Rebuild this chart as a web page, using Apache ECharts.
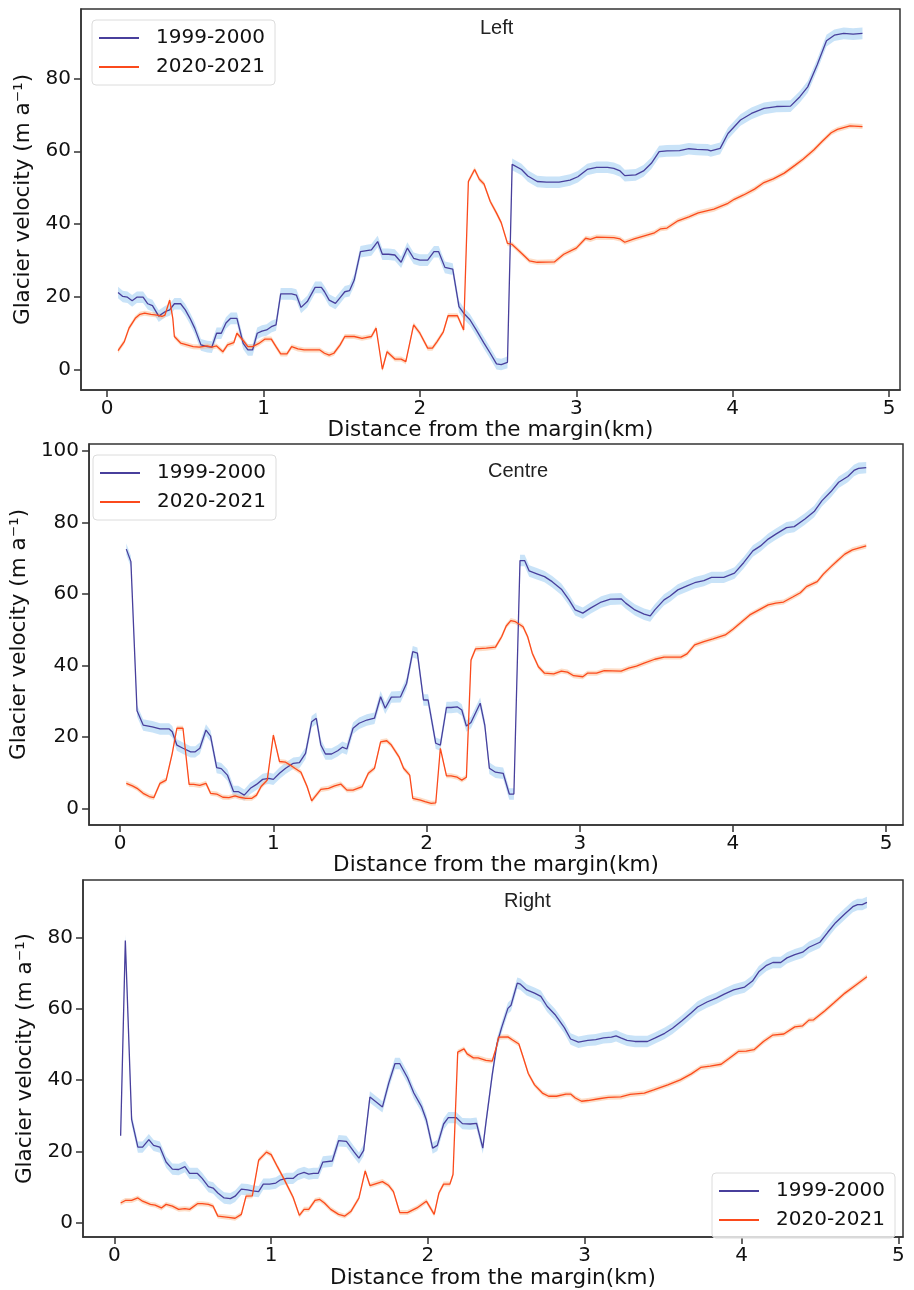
<!DOCTYPE html>
<html>
<head>
<meta charset="utf-8">
<script src="https://cdn.jsdelivr.net/npm/echarts@6/dist/echarts.min.js"></script>
<style>
  html, body { margin: 0; padding: 0; background: #fff; }
  #chart { width: 914px; height: 1290px; }
</style>
</head>
<body>
<div id="chart"></div>
<script>
// tick labels
const xTicks = [0, 1, 2, 3, 4, 5];
const yTicksLeft = [0, 20, 40, 60, 80];
const yTicksCentre = [0, 20, 40, 60, 80, 100];
const yTicksRight = [0, 20, 40, 60, 80];

// Left profile
const leftX1999 = [0.07,0.10,0.13,0.16,0.19,0.23,0.26,0.29,0.33,0.37,0.40,0.43,0.47,0.50,0.53,0.56,0.60,0.64,0.67,0.70,0.73,0.76,0.79,0.83,0.87,0.90,0.93,0.96,0.99,1.02,1.05,1.08,1.11,1.14,1.18,1.21,1.24,1.28,1.33,1.37,1.39,1.42,1.46,1.49,1.52,1.55,1.58,1.62,1.66,1.69,1.73,1.76,1.80,1.84,1.88,1.92,1.96,2.00,2.05,2.09,2.12,2.16,2.21,2.25,2.28,2.32,2.36,2.41,2.45,2.49,2.52,2.56,2.59,2.65,2.69,2.75,2.81,2.89,2.96,3.01,3.07,3.13,3.20,3.24,3.28,3.31,3.38,3.43,3.48,3.53,3.58,3.66,3.72,3.77,3.84,3.86,3.92,3.97,4.05,4.12,4.20,4.28,4.37,4.43,4.48,4.54,4.60,4.65,4.71,4.77,4.83];
const leftV1999 = [21.2,20.1,19.9,18.9,19.9,19.9,18.1,17.6,14.7,15.9,16.4,18.1,18.1,16.4,14.1,11.4,6.8,6.3,6.2,10.0,10.0,12.8,14.1,14.1,7.2,5.4,5.4,10.0,10.6,10.9,11.8,12.3,20.8,20.8,20.8,20.5,17.1,18.7,22.6,22.6,21.4,19.1,18.2,19.8,21.4,21.7,24.6,32.4,32.7,32.9,35.2,31.7,31.7,31.5,29.5,33.4,30.6,30.1,30.1,32.4,32.4,28.1,27.6,17.3,15.5,13.7,10.9,7.3,4.5,1.6,1.4,2.0,56.4,55.0,53.2,51.7,51.5,51.5,52.1,53.0,55.0,55.6,55.6,55.3,54.6,53.3,53.5,54.6,56.7,59.9,60.1,60.2,60.7,60.5,60.4,60.1,60.8,64.9,68.6,70.4,71.8,72.3,72.4,75.0,77.7,83.7,90.4,91.9,92.4,92.2,92.4];
const leftX2020 = [0.07,0.11,0.14,0.18,0.21,0.24,0.28,0.32,0.35,0.37,0.40,0.42,0.43,0.47,0.51,0.55,0.59,0.64,0.67,0.70,0.74,0.77,0.81,0.83,0.87,0.90,0.93,0.97,1.01,1.05,1.08,1.11,1.15,1.18,1.22,1.26,1.33,1.36,1.39,1.42,1.45,1.49,1.52,1.58,1.63,1.69,1.72,1.76,1.79,1.84,1.88,1.91,1.96,2.00,2.05,2.08,2.11,2.15,2.18,2.24,2.28,2.31,2.35,2.38,2.41,2.45,2.49,2.52,2.56,2.59,2.65,2.70,2.75,2.86,2.92,3.00,3.06,3.09,3.13,3.24,3.28,3.31,3.37,3.43,3.50,3.54,3.58,3.65,3.72,3.78,3.88,3.97,4.01,4.07,4.14,4.20,4.26,4.33,4.40,4.45,4.52,4.57,4.63,4.67,4.75,4.83];
const leftV2020 = [5.2,7.7,11.4,14.1,15.2,15.5,15.2,15.0,14.6,15.0,19.1,14.1,9.1,7.3,6.8,6.3,6.2,6.5,6.2,6.5,4.9,6.8,7.4,10.0,8.0,6.3,6.3,7.2,8.4,8.4,6.3,4.3,4.3,6.3,5.7,5.4,5.4,5.4,4.5,4.0,4.5,6.8,9.1,9.1,8.6,9.1,11.4,0.1,4.9,2.9,2.9,2.2,12.3,10.0,5.9,5.9,7.7,10.4,14.8,14.8,10.9,51.7,55.0,52.3,51.0,46.2,43.0,40.4,34.7,34.4,32.0,29.9,29.5,29.6,31.7,33.4,36.1,35.8,36.4,36.3,35.9,35.0,35.9,36.7,37.6,38.7,38.9,40.9,42.0,43.1,44.1,45.7,46.8,48.0,49.6,51.4,52.4,54.0,56.2,57.8,60.4,62.6,65.1,66.0,67.0,66.8];

// Centre profile
const centreX1999 = [0.04,0.07,0.11,0.15,0.21,0.26,0.32,0.34,0.37,0.41,0.46,0.49,0.52,0.56,0.59,0.63,0.66,0.70,0.74,0.77,0.81,0.85,0.89,0.93,0.97,1.00,1.04,1.08,1.13,1.17,1.21,1.25,1.28,1.31,1.34,1.38,1.42,1.45,1.48,1.52,1.56,1.61,1.66,1.70,1.73,1.77,1.83,1.87,1.91,1.94,1.98,2.01,2.06,2.09,2.13,2.16,2.20,2.23,2.26,2.29,2.35,2.38,2.41,2.45,2.50,2.54,2.57,2.61,2.64,2.67,2.72,2.77,2.82,2.88,2.93,2.97,3.02,3.07,3.14,3.20,3.27,3.30,3.36,3.42,3.46,3.49,3.55,3.59,3.64,3.70,3.75,3.81,3.86,3.94,4.01,4.07,4.13,4.18,4.23,4.28,4.35,4.40,4.47,4.53,4.58,4.64,4.69,4.75,4.79,4.82,4.87];
const centreV1999 = [72.6,69.1,27.4,23.4,22.9,22.3,22.3,21.5,17.8,16.9,15.9,15.9,16.9,22.0,20.3,11.5,11.2,9.4,4.8,4.8,3.8,5.7,6.8,8.2,8.5,8.2,9.9,11.3,12.7,12.9,15.5,24.3,25.3,17.8,15.3,15.3,16.2,17.2,16.7,22.5,23.9,24.8,25.3,31.3,28.1,31.2,31.3,35.1,43.9,43.5,30.4,30.4,18.3,17.8,28.3,28.3,28.5,27.6,23.1,24.1,29.5,23.4,11.3,10.2,9.9,4.1,4.1,69.4,69.4,66.5,65.7,64.9,63.5,61.4,58.4,55.6,54.7,56.1,57.8,58.6,58.7,57.5,55.6,54.4,53.9,55.6,58.4,59.5,61.2,62.3,63.2,63.8,64.7,64.7,65.9,68.8,72.1,73.5,75.4,76.8,78.6,78.9,81.0,83.1,86.1,88.7,91.3,92.9,94.6,95.2,95.4];
const centreX2020 = [0.04,0.08,0.11,0.15,0.19,0.22,0.26,0.30,0.34,0.37,0.41,0.45,0.48,0.52,0.56,0.59,0.63,0.67,0.71,0.75,0.78,0.82,0.86,0.89,0.92,0.96,1.00,1.04,1.08,1.11,1.14,1.18,1.22,1.25,1.28,1.31,1.36,1.40,1.44,1.48,1.52,1.58,1.62,1.66,1.70,1.74,1.77,1.82,1.85,1.89,1.91,1.96,1.99,2.03,2.06,2.09,2.13,2.16,2.20,2.23,2.26,2.29,2.32,2.39,2.45,2.49,2.52,2.55,2.58,2.63,2.66,2.69,2.73,2.77,2.83,2.88,2.92,2.96,3.02,3.05,3.11,3.16,3.27,3.32,3.37,3.42,3.49,3.55,3.61,3.66,3.70,3.75,3.81,3.87,3.95,4.00,4.05,4.11,4.17,4.23,4.28,4.33,4.39,4.44,4.48,4.55,4.59,4.64,4.68,4.73,4.78,4.87];
const centreV2020 = [7.1,6.4,5.7,4.3,3.4,3.1,7.1,8.0,15.5,22.5,22.5,6.8,6.8,6.5,7.1,4.3,4.1,3.2,3.1,3.6,3.2,2.9,2.9,3.8,6.2,8.0,20.6,13.2,13.0,12.2,11.3,10.2,6.2,2.2,3.8,5.4,5.7,6.4,6.9,5.2,5.2,6.2,9.9,11.3,18.7,19.0,17.8,14.5,11.3,9.4,2.9,2.4,2.0,1.5,1.6,16.9,9.2,9.2,8.8,8.0,8.8,41.6,44.7,44.9,45.2,48.1,51.1,52.6,52.3,50.9,48.1,43.5,39.7,37.9,37.7,38.5,38.2,37.2,36.9,37.9,37.9,38.6,38.5,39.3,39.9,40.7,41.8,42.4,42.4,42.4,43.3,45.8,46.7,47.5,48.6,50.2,52.0,54.2,55.6,57.0,57.5,57.8,59.2,60.4,62.1,63.5,65.6,67.7,69.3,71.2,72.4,73.5];

// Right profile
const rightX1999 = [0.04,0.07,0.11,0.15,0.18,0.22,0.25,0.29,0.33,0.37,0.41,0.45,0.48,0.53,0.56,0.60,0.63,0.66,0.70,0.74,0.77,0.81,0.85,0.88,0.92,0.95,0.99,1.03,1.06,1.10,1.14,1.17,1.21,1.24,1.27,1.30,1.33,1.39,1.43,1.48,1.53,1.56,1.59,1.63,1.71,1.75,1.79,1.82,1.87,1.91,1.96,1.99,2.03,2.06,2.10,2.13,2.18,2.22,2.27,2.31,2.35,2.37,2.41,2.44,2.47,2.51,2.53,2.57,2.59,2.63,2.68,2.72,2.76,2.81,2.87,2.91,2.96,3.02,3.07,3.12,3.17,3.20,3.23,3.27,3.32,3.40,3.45,3.51,3.56,3.62,3.68,3.72,3.78,3.84,3.89,3.95,4.02,4.07,4.11,4.16,4.20,4.25,4.29,4.34,4.39,4.43,4.50,4.55,4.60,4.66,4.71,4.74,4.77,4.80];
const rightV1999 = [24.4,79.3,29.0,21.2,21.2,23.3,21.7,21.2,17.0,15.0,14.9,15.7,13.8,13.8,12.4,10.1,9.7,8.3,6.9,6.7,7.4,9.4,9.2,8.9,8.7,10.8,10.8,11.1,12.0,12.4,12.4,13.5,14.1,13.6,13.8,13.8,17.0,17.3,23.0,22.8,19.8,18.1,20.3,35.3,32.5,39.2,44.7,44.7,40.7,36.4,32.5,28.8,20.9,21.7,27.7,29.5,29.5,27.8,27.7,27.9,20.9,28.1,41.5,50.2,54.8,60.2,61.1,67.3,67.0,65.4,64.5,63.6,60.8,58.5,54.8,51.6,50.7,51.2,51.4,51.9,52.1,52.5,51.9,51.2,50.9,50.9,51.9,53.2,54.6,56.7,59.0,60.6,62.0,63.1,64.2,65.4,66.2,67.9,70.5,72.3,73.1,73.1,74.4,75.3,76.0,77.4,78.8,81.6,84.3,86.8,88.8,89.4,89.4,90.0];
const rightX2020 = [0.04,0.07,0.11,0.15,0.18,0.23,0.26,0.30,0.33,0.37,0.41,0.45,0.48,0.53,0.56,0.60,0.63,0.66,0.70,0.74,0.77,0.81,0.84,0.88,0.92,0.97,1.00,1.04,1.08,1.14,1.18,1.21,1.24,1.28,1.31,1.34,1.38,1.43,1.47,1.51,1.56,1.60,1.63,1.71,1.75,1.78,1.82,1.87,1.93,1.99,2.04,2.07,2.10,2.14,2.16,2.19,2.23,2.25,2.29,2.32,2.37,2.41,2.44,2.45,2.51,2.54,2.58,2.61,2.64,2.68,2.73,2.77,2.82,2.88,2.91,2.94,2.98,3.02,3.09,3.15,3.23,3.29,3.38,3.44,3.53,3.61,3.68,3.74,3.80,3.87,3.92,3.98,4.03,4.08,4.14,4.20,4.27,4.34,4.39,4.43,4.46,4.53,4.59,4.66,4.73,4.80];
const rightV2020 = [5.5,6.2,6.2,6.9,6.0,5.1,4.9,4.1,5.1,4.6,3.7,3.9,3.7,5.3,5.3,5.1,4.6,1.8,1.6,1.4,1.2,2.3,7.4,7.5,17.5,19.8,19.1,15.7,12.4,7.1,2.0,3.7,3.7,6.2,6.5,5.5,3.7,2.3,1.8,3.2,6.9,14.5,10.4,11.5,10.4,8.7,2.8,2.8,4.1,6.0,2.3,8.3,10.8,10.8,13.5,47.9,48.8,47.4,46.3,46.3,45.6,45.4,49.8,52.1,52.2,51.3,50.2,46.1,41.9,38.7,36.4,35.5,35.5,36.1,36.1,35.0,34.1,34.3,34.8,35.2,35.3,36.0,36.4,37.3,38.7,40.1,41.8,43.6,44.0,44.5,46.1,48.1,48.2,48.6,50.9,52.7,53.0,55.0,55.3,56.9,57.0,59.5,61.8,64.5,66.8,69.1];

const NAME_A = '1999-2000';
const NAME_B = '2020-2021';
const COLOR_A = '#483f9c';
const COLOR_B = '#fb4a1c';
const BAND_A = 'rgba(165,208,244,0.6)';
const BAND_B = 'rgba(252,185,140,0.5)';

const panels = [
  { title: 'Left', xa: leftX1999, va: leftV1999, xb: leftX2020, vb: leftV2020, yTicks: yTicksLeft,
    grid: { left: 81, top: 9, width: 819, height: 381 }, xr: [-0.167, 5.07], yr: [-5.6, 99.1],
    titlePos: { left: 475, top: 13 }, legendPos: { left: 92, top: 20 }, nameGap: 36 },
  { title: 'Centre', xa: centreX1999, va: centreV1999, xb: centreX2020, vb: centreV2020, yTicks: yTicksCentre,
    grid: { left: 83, top: 444, width: 820, height: 381 }, xr: [-0.203, 5.11], yr: [-4.56, 102],
    titlePos: { left: 483, top: 456 }, legendPos: { left: 93, top: 455 }, nameGap: 49 },
  { title: 'Right', xa: rightX1999, va: rightV1999, xb: rightX2020, vb: rightV2020, yTicks: yTicksRight,
    grid: { left: 83, top: 880, width: 820, height: 363 }, xr: [-0.2, 5.03], yr: [-4.1, 96.3],
    titlePos: { left: 499, top: 886 }, legendPos: { left: 712, top: 1173 }, nameGap: 37 }
];

// shaded uncertainty band drawn as one polygon through the axis scales
function bandSeries(g, xs, vs, half, fill) {
  return {
    type: 'custom', xAxisIndex: g, yAxisIndex: g, silent: true, z: 1, clip: true,
    data: [[xs[0], vs[0]]],
    renderItem: (params, api) => {
      const upper = xs.map((x, i) => api.coord([x, vs[i] + half]));
      const lower = xs.map((x, i) => api.coord([x, vs[i] - half])).reverse();
      return { type: 'polygon', shape: { points: upper.concat(lower) }, style: { fill: fill } };
    }
  };
}

function mainLine(g, name, xs, vs, color) {
  return {
    type: 'line', name: name, xAxisIndex: g, yAxisIndex: g,
    data: xs.map((x, i) => [x, vs[i]]),
    color: color, showSymbol: false,
    lineStyle: { color: color, width: 1.3 }, z: 3
  };
}

const tickFont = { fontSize: 20, color: '#111', fontFamily: 'DejaVu Sans' };
const option = {
  animation: false,
  backgroundColor: '#fff',
  title: panels.map(p => ({
    text: p.title, left: p.titlePos.left, top: p.titlePos.top,
    textStyle: { fontSize: 20, fontWeight: 'normal', color: '#222', fontFamily: 'Liberation Sans' }
  })),
  legend: panels.map(p => ({
    data: [NAME_A, NAME_B], orient: 'vertical',
    left: p.legendPos.left, top: p.legendPos.top,
    icon: 'rect', itemWidth: 40, itemHeight: 2, itemGap: 9,
    padding: [8, 10, 8, 7],
    backgroundColor: 'rgba(255,255,255,0.8)', borderColor: '#dcdcdc', borderWidth: 1, borderRadius: 4,
    textStyle: { fontSize: 20, color: '#111', fontFamily: 'DejaVu Sans', padding: [0, 0, 0, 12] }
  })),
  grid: panels.map(p => Object.assign({ show: true, borderColor: '#333', borderWidth: 1.5, containLabel: false }, p.grid)),
  xAxis: panels.map((p, g) => ({
    type: 'value', gridIndex: g, min: p.xr[0], max: p.xr[1],
    name: 'Distance from the margin(km)', nameLocation: 'middle', nameGap: 27,
    nameTextStyle: { fontSize: 21.5, color: '#111', fontFamily: 'DejaVu Sans' },
    axisLine: { show: true, onZero: false, lineStyle: { color: '#333', width: 1.5 } },
    axisTick: { show: true, inside: false, length: 7, lineStyle: { color: '#333', width: 1.5 }, customValues: xTicks },
    axisLabel: Object.assign({ margin: 9, customValues: xTicks }, tickFont),
    splitLine: { show: false }
  })),
  yAxis: panels.map((p, g) => ({
    type: 'value', gridIndex: g, min: p.yr[0], max: p.yr[1],
    name: 'Glacier velocity (m a⁻¹)', nameLocation: 'middle', nameGap: p.nameGap,
    nameTextStyle: { fontSize: 21.5, color: '#111', fontFamily: 'DejaVu Sans' },
    axisLine: { show: true, onZero: false, lineStyle: { color: '#333', width: 1.5 } },
    axisTick: { show: true, inside: false, length: 7, lineStyle: { color: '#333', width: 1.5 }, customValues: p.yTicks },
    axisLabel: Object.assign({ margin: 10, customValues: p.yTicks }, tickFont),
    splitLine: { show: false }
  })),
  series: []
};

panels.forEach((p, g) => {
  option.series.push(bandSeries(g, p.xa, p.va, 1.6, BAND_A));
  option.series.push(bandSeries(g, p.xb, p.vb, 0.7, BAND_B));
  option.series.push(mainLine(g, NAME_A, p.xa, p.va, COLOR_A));
  option.series.push(mainLine(g, NAME_B, p.xb, p.vb, COLOR_B));
});

const chart = echarts.init(document.getElementById('chart'), null, { renderer: 'canvas' });
chart.setOption(option);
</script>
</body>
</html>
